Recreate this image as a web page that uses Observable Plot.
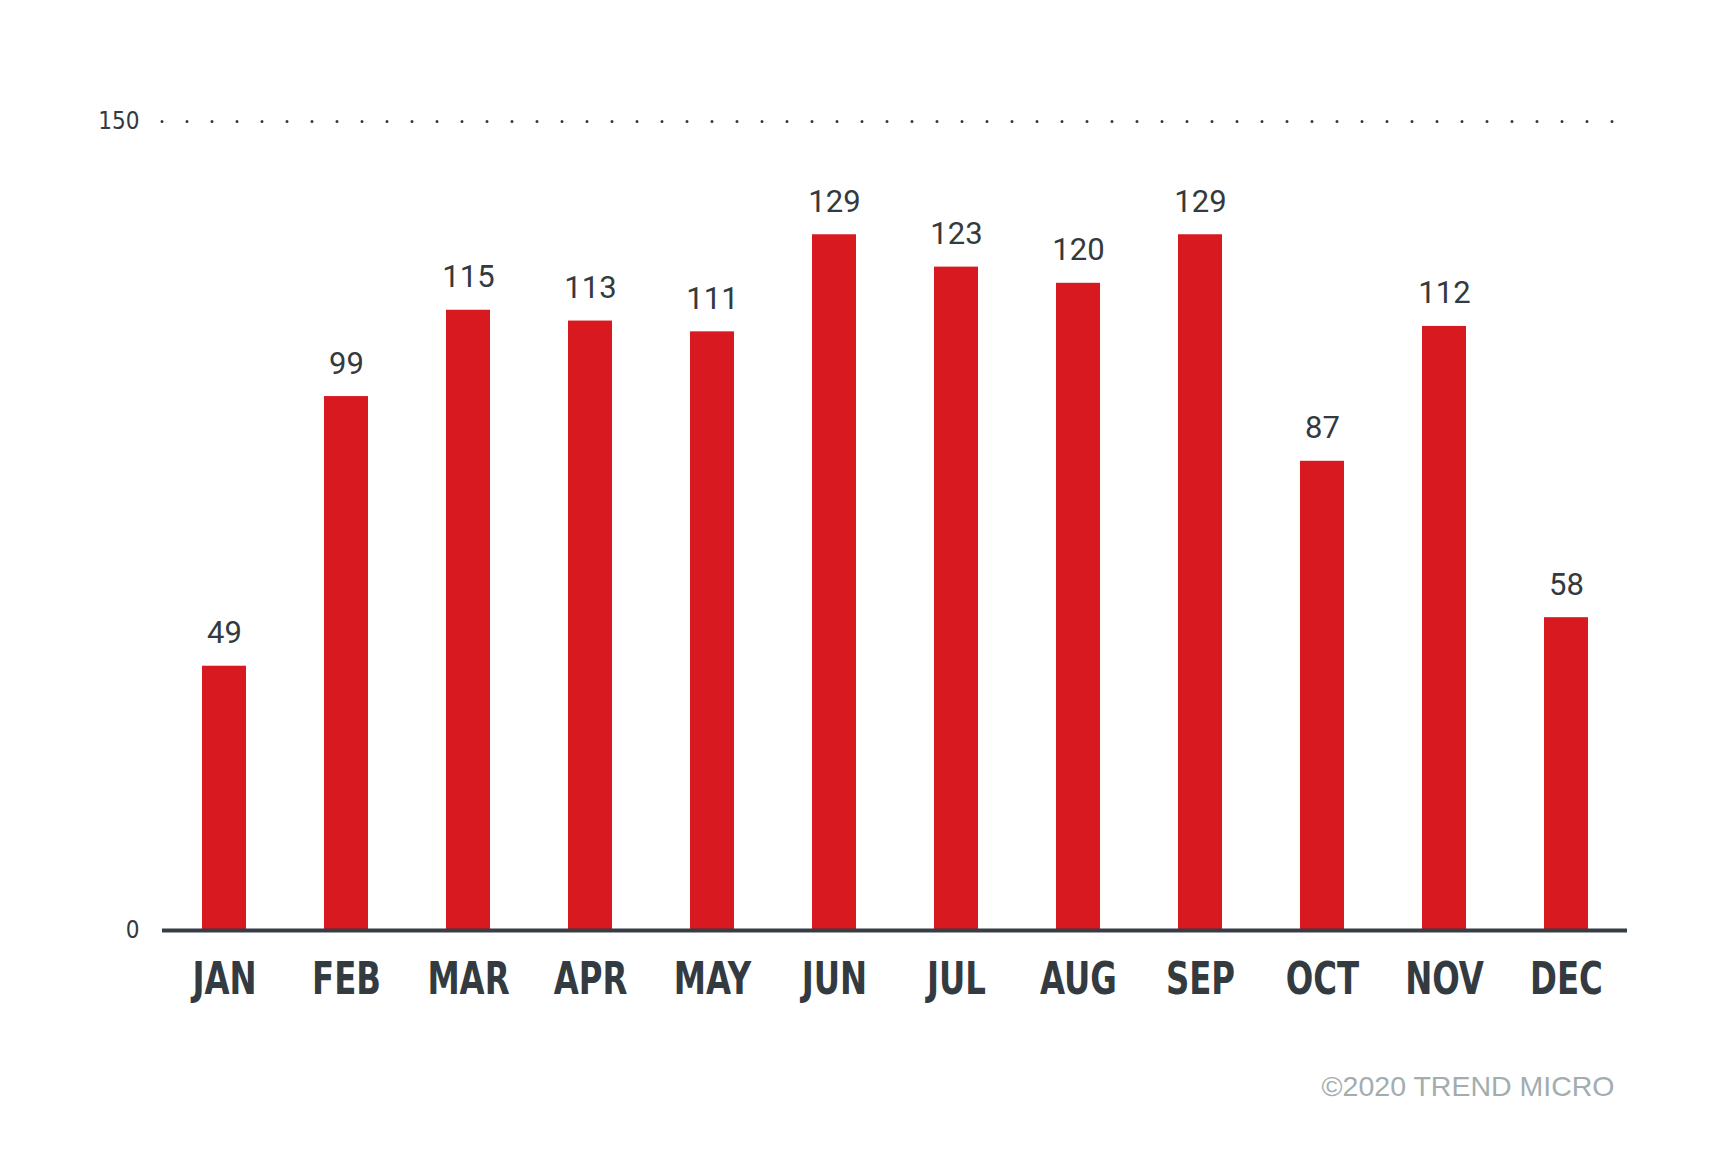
<!DOCTYPE html>
<html>
<head>
<meta charset="utf-8">
<script src="https://cdn.jsdelivr.net/npm/d3@7"></script>
<script src="https://cdn.jsdelivr.net/npm/@observablehq/plot@0.6"></script>
<style>
  html, body { margin: 0; padding: 0; background: #ffffff; }
  #chart svg { display: block; }
</style>
</head>
<body>
<div id="chart"></div>
<script>
const months = ["JAN","FEB","MAR","APR","MAY","JUN","JUL","AUG","SEP","OCT","NOV","DEC"];
const values = [49, 99, 115, 113, 111, 129, 123, 120, 129, 87, 112, 58];
const yTicks = [0, 150];
const caption = "©2020 TREND MICRO";

const data = months.map((m, i) => ({month: m, value: values[i]}));

const RED = "#d81920";
const DARK = "#333a40";
const narrow = "'DejaVu Sans Condensed', 'Liberation Sans Narrow', sans-serif";

const chart = Plot.plot({
  width: 1721,
  height: 1161,
  marginLeft: 162,
  marginRight: 94,
  marginTop: 121,
  marginBottom: 231,
  style: {background: "#ffffff"},
  x: {domain: months, paddingInner: 0.64, paddingOuter: 0.32, label: null},
  y: {domain: [0, 150], label: null},
  marks: [
    Plot.ruleY([150], {stroke: DARK, strokeWidth: 3, strokeDasharray: "0 25", strokeLinecap: "round"}),
    Plot.barY(data, {x: "month", y: "value", fill: RED}),
    Plot.ruleY([0], {stroke: "#363d44", strokeWidth: 4}),
    Plot.text(data, {x: "month", y: "value", text: d => String(d.value), lineAnchor: "bottom", dy: -23,
      fill: DARK, fontSize: 31, fontFamily: "Roboto, sans-serif"}),
    Plot.axisY(yTicks, {tickSize: 0, tickPadding: 23, label: null, fill: DARK, fontSize: 24,
      fontFamily: narrow, textAnchor: "end"}),
    Plot.axisX({tickSize: 0, tickPadding: 32, label: null, fill: DARK, fontSize: 45, fontWeight: "bold",
      fontFamily: narrow}),
    Plot.text([caption], {frameAnchor: "bottom-right", text: d => d, dy: 165, dx: -13, lineAnchor: "bottom",
      fill: "#a2adb0", fontSize: 28.5, fontFamily: "'Liberation Sans', Arial, sans-serif"})
  ]
});
// condense the bold month labels horizontally
d3.select(chart).selectAll("g[aria-label='x-axis tick label'] text").each(function() {
  const t = this.getAttribute("transform") || "";
  this.setAttribute("transform", t + " scale(0.8,1)");
});
document.getElementById("chart").appendChild(chart);
</script>
</body>
</html>
